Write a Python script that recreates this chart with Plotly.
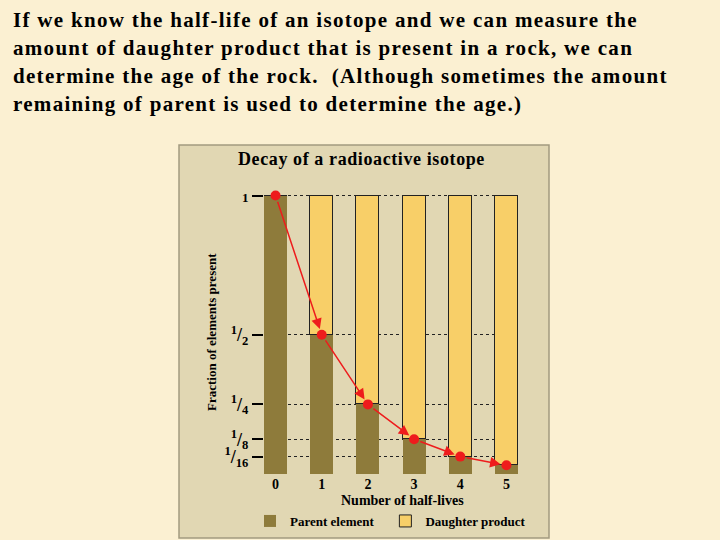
import plotly.graph_objects as go

# data
half_lives = [0, 1, 2, 3, 4, 5]
parent = [1, 1/2, 1/4, 1/8, 1/16, 1/32]
daughter = [1 - p for p in parent]
ytick_vals = [1, 1/2, 1/4, 1/8, 1/16]
ytick_text = ['<span style="font-size:13px">1</span>',
              "<sup>1</sup>/<sub>2</sub>", "<sup>1</sup>/<sub>4</sub>",
              "<sup>1</sup>/<sub>8</sub>", "<sup>1</sup>/<sub>16</sub>"]

W, H = 720, 540
L, R, T, B = 264, 202, 190, 66
PW, PH = W - L - R, H - T - B


def px(x): return (x - L) / PW
def py(y): return (H - B - y) / PH


SERIF = "Liberation Serif, Times New Roman, serif"
OLIVE = "#8e7b3b"
YELLOW = "#f8cf68"
RED = "#ee1c1c"

fig = go.Figure()
fig.add_trace(go.Bar(x=half_lives, y=parent, name="<b>Parent element</b>\u00a0\u00a0", width=0.5,
                     marker=dict(color=OLIVE, line=dict(width=0))))
fig.add_trace(go.Bar(x=half_lives, y=daughter, name="<b>Daughter product</b>", width=0.5,
                     marker=dict(color=YELLOW, line=dict(color="#222", width=1))))
fig.add_trace(go.Scatter(x=half_lives, y=parent, mode="markers", showlegend=False,
                         cliponaxis=False, marker=dict(color=RED, size=10)))

# arrows point to point
for i in range(1, len(half_lives)):
    fig.add_annotation(x=half_lives[i], y=parent[i], ax=half_lives[i-1], ay=parent[i-1],
                       xref="x", yref="y", axref="x", ayref="y", text="",
                       showarrow=True, arrowhead=2, arrowsize=1.4, arrowwidth=1.5,
                       arrowcolor=RED, standoff=6, startstandoff=5)

# panel behind chart
fig.add_shape(type="rect", xref="paper", yref="paper", layer="below",
              x0=px(179), x1=px(549), y0=py(538), y1=py(145),
              fillcolor="#e1d7b3", line=dict(color="#a39a80", width=1.5))

intro = ["If we know the half-life of an isotope and we can measure the",
         "amount of daughter product that is present in a rock, we can",
         "determine the age of the rock.  (Although sometimes the amount",
         "remaining of parent is used to determine the age.)"]
for k, line in enumerate(intro):
    fig.add_annotation(xref="paper", yref="paper", x=px(11), y=py(20 + 28 * k),
                       xanchor="left", yanchor="middle", align="left", showarrow=False,
                       text=f'<b><span style="letter-spacing:1.3px">{line}</span></b>',
                       font=dict(family=SERIF, size=21, color="black"))

fig.add_annotation(xref="paper", yref="paper", x=px(361), y=py(159), showarrow=False,
                   xanchor="center", yanchor="middle",
                   text='<b><span style="letter-spacing:0.6px">Decay of a radioactive isotope</span></b>',
                   font=dict(family=SERIF, size=18, color="black"))
fig.add_annotation(xref="paper", yref="paper", x=px(402), y=py(500), showarrow=False,
                   xanchor="center", yanchor="middle",
                   text="<b>Number of half-lives</b>",
                   font=dict(family=SERIF, size=14, color="black"))
fig.add_annotation(xref="paper", yref="paper", x=px(211), y=py(332), showarrow=False,
                   xanchor="center", yanchor="middle",
                   text="<b>Fraction of elements present</b>", textangle=-90,
                   font=dict(family=SERIF, size=13, color="black"))

fig.update_layout(
    width=W, height=H, margin=dict(l=L, r=R, t=T, b=B, autoexpand=False),
    paper_bgcolor="#fbf0d2", plot_bgcolor="rgba(0,0,0,0)",
    barmode="stack", bargap=0,
    font=dict(family=SERIF, color="black"),
    legend=dict(orientation="h", x=px(250), y=py(521), xanchor="left", yanchor="middle",
                bgcolor="rgba(0,0,0,0)", font=dict(family=SERIF, size=13),
                traceorder="normal"),
    xaxis=dict(range=[-0.25, 5.25], tickvals=half_lives,
               ticktext=[f"<b>{v}</b>" for v in half_lives],
               showgrid=False, zeroline=False, showline=False, ticks="",
               ticklabelstandoff=0,
               tickfont=dict(family=SERIF, size=14)),
    yaxis=dict(range=[0, 1.02], tickvals=ytick_vals,
               ticktext=[f"<b>{t}</b>" for t in ytick_text],
               showgrid=True, griddash="dot", gridcolor="#222", gridwidth=1.2,
               zeroline=False, showline=False, ticks="outside", ticklen=11,
               tickwidth=2, tickcolor="black",
               tickfont=dict(family=SERIF, size=18)),
)

fig.write_html("out.html", config={"displayModeBar": False},
               post_script="document.body.style.margin='0';")
